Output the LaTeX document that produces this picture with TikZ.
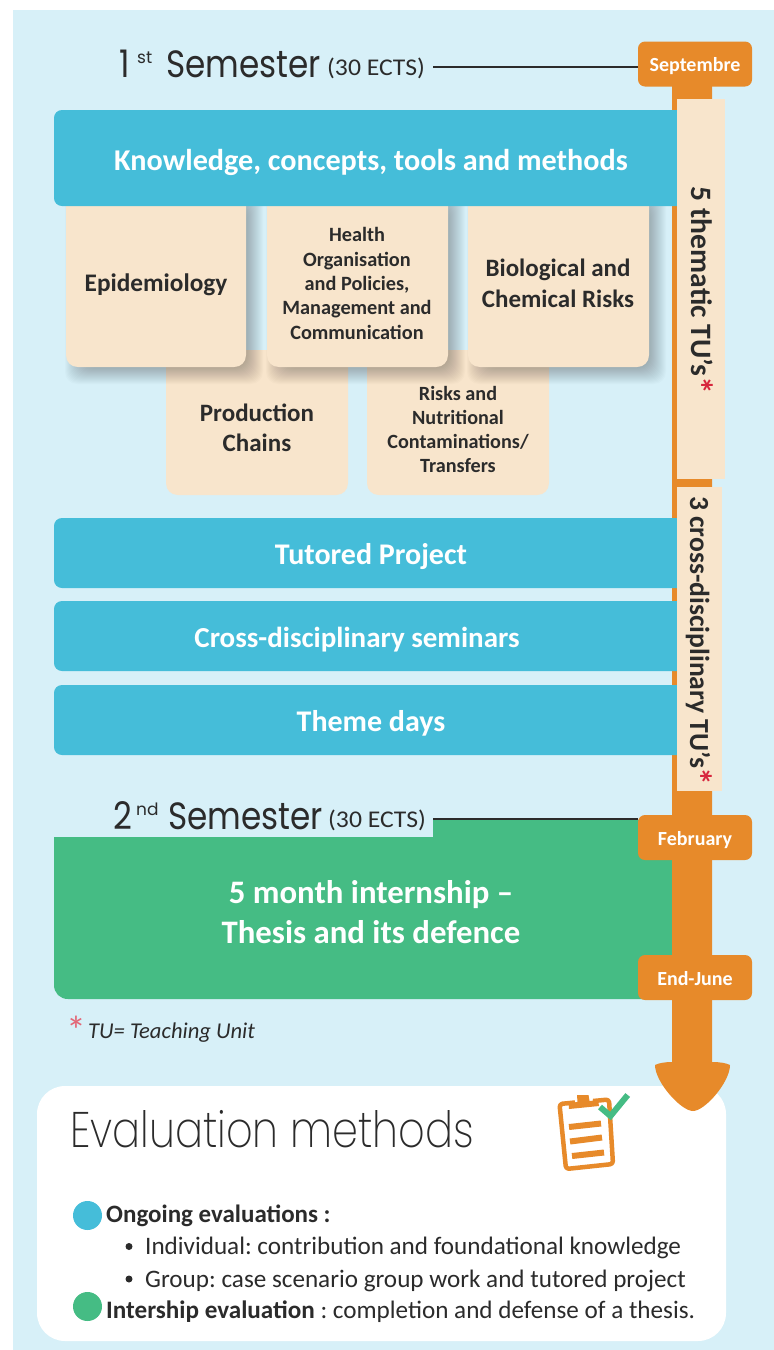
\documentclass[tikz,border=0pt]{standalone}
\usepackage{fontspec}
\setmainfont{Carlito}
\newfontfamily\decofont{Poppins}
\newfontfamily\thinfont{Poppins ExtraLight}
\usetikzlibrary{calc}
\definecolor{bgblue}{HTML}{D7F0F8}
\definecolor{barblue}{HTML}{45BDD9}
\definecolor{orangeC}{HTML}{E78A2A}
\definecolor{greenC}{HTML}{45BC84}
\definecolor{creamC}{HTML}{F8E5CC}
\definecolor{inkC}{HTML}{2B2B2B}
\definecolor{redC}{HTML}{D7263D}
\frenchspacing
\newcommand{\fsz}[2]{\fontsize{#1}{#2}\selectfont}
\newcommand{\bottomround}[4]{(#1,#3) -- (#1,#4-12) .. controls (#1,#4-5) and (#1+5,#4) .. (#1+12,#4) -- (#2-12,#4) .. controls (#2-5,#4) and (#2,#4-5) .. (#2,#4-12) -- (#2,#3) -- cycle}
\newcommand{\leftround}[4]{(#2,#3) -- (#1+8,#3) .. controls (#1+3.5,#3) and (#1,#3+3.5) .. (#1,#3+8) -- (#1,#4-8) .. controls (#1,#4-3.5) and (#1+3.5,#4) .. (#1+8,#4) -- (#2,#4) -- cycle}
\newcommand{\softshadow}[4]{%
  \foreach \d in {9,8,...,-9}{%
    \fill[black,opacity=0.014,rounded corners=12] (#1+8-\d,#3+8-\d) rectangle (#2+8+\d,#4+8+\d);}}
\newcommand{\redstar}{\textcolor{redC}{\fsz{36}{30}\raisebox{-4pt}[0pt][0pt]{*}}}
\newcommand{\datelabel}[2]{\raisebox{-#1pt}[0pt][0pt]{#2}}
\tikzset{
  datebox/.style={fill=orangeC,rounded corners=7,minimum width=114,minimum height=45,inner sep=0,text=white,font=\bfseries\fsz{20}{22}},
  bartext/.style={text=white,font=\bfseries\fsz{30}{32},align=center,inner sep=0},
  creamtext/.style={text=inkC,font=\bfseries,align=center,inner sep=0},
  bodytext/.style={text=inkC,anchor=base west,inner sep=0,font=\fsz{25.15}{28}},
  vtext/.style={text=inkC,rotate=-90,inner sep=0,font=\bfseries},
  titletext/.style={anchor=base west,inner sep=0,text=inkC},
  icon/.style={draw=orangeC,line width=4.5,line join=round,rounded corners=3},
  iconbar/.style={draw=orangeC,line width=6},
}
\begin{document}
\begin{tikzpicture}[x=1pt,y=-1pt]
\useasboundingbox (0,0) rectangle (774,1350);
\fill[white] (0,0) rectangle (774,1350);
\fill[bgblue] (13,10) rectangle (774,1350);
% white evaluation panel
\fill[white,rounded corners=28] (37,1086) rectangle (726,1341);
% green block
\fill[greenC] (54,837) -- (433,837) -- (433,820) -- (680,820) -- (680,999) -- (68,999) .. controls (60,999) and (54,993) .. (54,985) -- cycle;
% timeline arrow
\fill[orangeC] (672,70) -- (712,70) -- (712,1062) .. controls (720,1062) and (726,1063) .. (730,1065) .. controls (730,1082) and (705,1111) .. (693,1111) .. controls (681,1111) and (655,1082) .. (655,1065) .. controls (659,1063) and (665,1062) .. (672,1062) -- cycle;
% lower cream boxes
\fill[creamC] \bottomround{166}{348}{350}{495};
\fill[creamC] \bottomround{367}{549}{350}{495};
% shadows
\softshadow{66}{246}{190}{367}
\softshadow{267}{448}{190}{367}
\softshadow{468}{649}{190}{367}
% upper cream boxes
\fill[creamC] \bottomround{66}{246}{200}{367};
\fill[creamC] \bottomround{267}{448}{200}{367};
\fill[creamC] \bottomround{468}{649}{200}{367};
% blue bars
\fill[barblue] \leftround{54}{678}{110}{206};
\fill[barblue] \leftround{54}{678}{518}{588};
\fill[barblue] \leftround{54}{678}{601}{671};
\fill[barblue] \leftround{54}{678}{685}{755};
% vertical bands
\fill[creamC] (677,99) rectangle (725,479);
\fill[creamC] (677,487) rectangle (722,791);
% date nodes
\node[datebox] (sep) at (695,64) {\datelabel{7}{Septembre}};
\node[datebox] (feb) at (695,837.5) {\datelabel{7.5}{February}};
\node[datebox] (jun) at (695,977.5) {\datelabel{8}{End-June}};
% bar text
\node[bartext,font=\bfseries\fsz{30.2}{32}] (know) at (371,162) {Knowledge, concepts, tools and methods};
\node[bartext] (tut) at (371,556) {Tutored Project};
\node[bartext,font=\bfseries\fsz{29}{32}] (cross) at (357,640) {Cross-disciplinary seminars};
\node[bartext] (theme) at (371,723) {Theme days};
\node[bartext,font=\bfseries\fsz{32.8}{40}] (intern) at (371,912) {5 month internship --\\Thesis and its defence};
% cream text
\node[creamtext,font=\bfseries\fsz{25.3}{30}] (epi) at (156,285) {Epidemiology};
\node[creamtext,font=\bfseries\fsz{20.3}{24.4}] (health) at (357,283.5) {Health\\Organisation\\and Policies,\\Management and\\Communication};
\node[creamtext,font=\bfseries\fsz{25}{31}] (bio) at (558,283.5) {Biological and\\Chemical Risks};
\node[creamtext,font=\bfseries\fsz{25}{30}] (prod) at (257,428) {Production\\Chains};
\node[creamtext,font=\bfseries\fsz{20.2}{24.3}] (risk) at (458,429.5) {Risks and\\Nutritional\\Contaminations/\\Transfers};
% vertical text
\node[vtext,font=\bfseries\fsz{29.6}{30}] (v1) at (702,290.5) {5 thematic TU’s\redstar};
\node[vtext,font=\bfseries\fsz{27.6}{30}] (v2) at (698,641) {3 cross-disciplinary TU’s\redstar};
% semester titles
\node[titletext] (s1a) at (119,77) {\decofont\fsz{38}{40}\scalebox{.86}[1]{1}};
\node[titletext] (s1b) at (137,63) {\decofont\fsz{17}{20}st};
\node[titletext] (s1c) at (166,77) {\decofont\fsz{38}{40}\scalebox{.86}[1]{Semester}};
\node[titletext] (e1) at (327,75) {\fsz{24}{24}\scalebox{1.07}[1]{(30 ECTS)}};
\node[titletext] (s2a) at (113,829) {\decofont\fsz{38}{40}\scalebox{.86}[1]{2}};
\node[titletext] (s2b) at (136,815) {\decofont\fsz{17}{20}nd};
\node[titletext] (s2c) at (168,829) {\decofont\fsz{38}{40}\scalebox{.86}[1]{Semester}};
\node[titletext] (e2) at (328,827) {\fsz{24}{24}\scalebox{1.07}[1]{(30 ECTS)}};
\coordinate (l1) at (433,67);
\coordinate (l2) at (433,819);
\draw[inkC,line width=2] (l1) -- (l1-|sep.west);
\draw[inkC,line width=2] (l2) -- (l2-|feb.west);
% footnote
\node[titletext,text=redC!70!white] (st) at (66,1044) {\fsz{40}{40}*};
\node[titletext] (note) at (88,1038) {\itshape\fsz{22.6}{24}TU= Teaching Unit};
% evaluation title
\node[titletext] (evalt) at (70,1147) {\thinfont\fsz{50}{52}\scalebox{.83}[1]{Evaluation methods}};
% clipboard icon
\draw[icon] (575,1102.5) -- (559.5,1104) -- (566,1169) -- (613,1164) -- (609,1099.5) -- (593,1101);
\fill[orangeC] (569,1109) -- (599,1106) -- (598,1100) -- (589.5,1101) -- (588.5,1095) -- (577,1095) -- (577.5,1102) -- (568.5,1103) -- cycle;
\draw[iconbar] (569,1127) -- (601,1123.5);
\draw[iconbar] (570,1141.5) -- (602,1137.5);
\draw[iconbar] (572,1156) -- (604,1152.5);
\draw[greenC,line width=6] (600,1107) -- (610.5,1116) -- (627.7,1095);
% list
\fill[barblue] (87.5,1215.5) circle[radius=14.5];
\fill[greenC] (87.5,1306.5) circle[radius=14.5];
\node[bodytext,font=\bfseries\fsz{25}{28}] (on) at (106,1222) {Ongoing evaluations :};
\fill[inkC] (129,1246.5) circle[radius=3.5];
\fill[inkC] (129,1279) circle[radius=3.5];
\node[bodytext] (ind) at (145,1254) {Individual: contribution and foundational knowledge};
\node[bodytext] (grp) at (145,1287) {Group: case scenario group work and tutored project};
\node[bodytext] (intr) at (106,1318) {\textbf{Intership evaluation} : completion and defense of a thesis.};
\end{tikzpicture}
\end{document}
